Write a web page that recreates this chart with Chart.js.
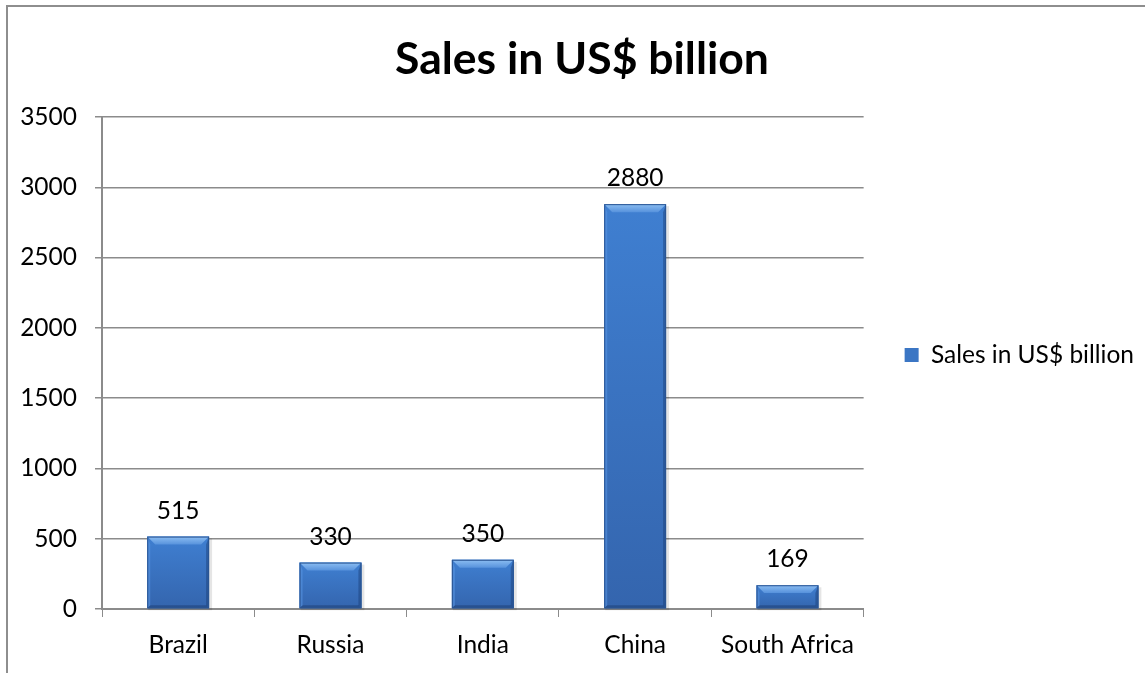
<!DOCTYPE html>
<html>
<head>
<meta charset="utf-8">
<script src="https://cdn.jsdelivr.net/npm/chart.js@4/dist/chart.umd.min.js"></script>
<style>
  html, body { margin: 0; padding: 0; background: #ffffff; }
  #wrap { position: relative; width: 1145px; height: 673px; overflow: hidden; }
  #frame { position: absolute; left: 6px; top: 5px; width: 1200px; height: 720px;
           border-left: 2px solid #8e8e8e; border-top: 2px solid #8e8e8e; box-sizing: border-box; }
  canvas { position: absolute; left: 0; top: 0; }
</style>
</head>
<body>
<div id="wrap">
  <div id="frame"></div>
  <canvas id="chart" width="1145" height="673"></canvas>
</div>
<script>
// Chart content
const chartTitle = 'Sales in US$ billion';
const seriesLabel = 'Sales in US$ billion';
const countries = ['Brazil', 'Russia', 'India', 'China', 'South Africa'];
const sales = [515, 330, 350, 2880, 169];
const yTicks = [0, 500, 1000, 1500, 2000, 2500, 3000, 3500];

const FONT = 'Lato, "Open Sans", sans-serif';
const BAR_BLUE = '#3b76c4';
const TEXT_SIZE = 24.5;

// Bevelled, slightly shaded bar faces drawn over each bar element
const bevelBars = {
  id: 'bevelBars',
  afterDatasetsDraw(chart) {
    const ctx = chart.ctx;
    const meta = chart.getDatasetMeta(0);
    meta.data.forEach((bar) => {
      const w = bar.width;
      const l = bar.x - w / 2, r = bar.x + w / 2;
      const t = bar.y, b = bar.base;
      const h = b - t;
      const bv = Math.min(8, h / 3);
      const sv = Math.min(3, w / 6);
      ctx.save();
      // soft shadow
      ctx.fillStyle = 'rgba(0,0,0,0.10)';
      ctx.fillRect(l + 1, t + 2, w + 2, h);
      // face
      const face = ctx.createLinearGradient(0, t, 0, b);
      face.addColorStop(0, '#3f7fd1');
      face.addColorStop(1, '#3465ae');
      ctx.fillStyle = face;
      ctx.fillRect(l, t, w, h);
      // top bevel
      const top = ctx.createLinearGradient(0, t, 0, t + bv);
      top.addColorStop(0, '#8cbef2');
      top.addColorStop(1, '#5792dc');
      ctx.fillStyle = top;
      ctx.beginPath();
      ctx.moveTo(l, t); ctx.lineTo(r, t); ctx.lineTo(r - bv, t + bv); ctx.lineTo(l + bv, t + bv);
      ctx.closePath(); ctx.fill();
      // left bevel
      ctx.fillStyle = 'rgba(90,150,225,0.55)';
      ctx.beginPath();
      ctx.moveTo(l, t); ctx.lineTo(l + sv, t + bv); ctx.lineTo(l + sv, b - sv); ctx.lineTo(l, b);
      ctx.closePath(); ctx.fill();
      // right bevel
      ctx.fillStyle = 'rgba(25,60,115,0.45)';
      ctx.beginPath();
      ctx.moveTo(r, t); ctx.lineTo(r - sv, t + bv); ctx.lineTo(r - sv, b - sv); ctx.lineTo(r, b);
      ctx.closePath(); ctx.fill();
      // bottom bevel
      ctx.fillStyle = 'rgba(25,55,105,0.45)';
      ctx.beginPath();
      ctx.moveTo(l, b); ctx.lineTo(l + sv, b - sv); ctx.lineTo(r - sv, b - sv); ctx.lineTo(r, b);
      ctx.closePath(); ctx.fill();
      // outline
      ctx.strokeStyle = '#2b5593';
      ctx.lineWidth = 1;
      ctx.strokeRect(l + 0.5, t + 0.5, w - 1, h - 1);
      ctx.restore();
    });
  }
};

// Value labels above the bars
const valueLabels = {
  id: 'valueLabels',
  afterDatasetsDraw(chart) {
    const ctx = chart.ctx;
    const meta = chart.getDatasetMeta(0);
    const values = chart.data.datasets[0].data;
    ctx.save();
    ctx.font = TEXT_SIZE + 'px ' + FONT;
    ctx.fillStyle = '#000000';
    ctx.textAlign = 'center';
    ctx.textBaseline = 'alphabetic';
    meta.data.forEach((bar, i) => {
      ctx.fillText(String(values[i]), bar.x, bar.y - 18);
    });
    ctx.restore();
  }
};

new Chart(document.getElementById('chart'), {
  type: 'bar',
  data: {
    labels: countries,
    datasets: [{
      label: seriesLabel,
      data: sales,
      backgroundColor: BAR_BLUE,
      borderWidth: 0,
      barPercentage: 0.406,
      categoryPercentage: 1.0
    }]
  },
  options: {
    responsive: false,
    animation: false,
    devicePixelRatio: 1,
    layout: { padding: { left: 20, right: 1, top: 20, bottom: -17 } },
    plugins: {
      title: {
        display: true,
        text: chartTitle,
        color: '#000000',
        font: { family: FONT, size: 44.5, weight: 'bold', lineHeight: 1.2 },
        padding: { top: 13, bottom: 30.6 }
      },
      legend: {
        display: true,
        position: 'right',
        labels: {
          color: '#000000',
          font: { family: FONT, size: TEXT_SIZE },
          boxWidth: 14,
          boxHeight: 14,
          padding: 41
        }
      },
      tooltip: { enabled: false }
    },
    scales: {
      x: {
        offset: true,
        grid: {
          offset: true,
          drawOnChartArea: false,
          drawTicks: true,
          tickLength: 8,
          color: '#8b8b8b',
          lineWidth: 1
        },
        border: { display: true, color: '#8b8b8b', width: 2 },
        ticks: {
          color: '#000000',
          font: { family: FONT, size: TEXT_SIZE },
          padding: 13,
          maxRotation: 0
        },
        afterFit(scale) { scale.height = 81; }
      },
      y: {
        min: yTicks[0],
        max: yTicks[yTicks.length - 1],
        afterBuildTicks(scale) { scale.ticks = yTicks.map(v => ({ value: v })); },
        grid: {
          color: '#8b8b8b',
          lineWidth: 1.5,
          tickLength: 7,
          drawTicks: true
        },
        border: { display: true, color: '#8b8b8b', width: 2 },
        ticks: {
          color: '#000000',
          font: { family: FONT, size: TEXT_SIZE },
          padding: 18,
          callback: (v) => String(v)
        },
        afterFit(scale) { scale.width = 82; }
      }
    }
  },
  plugins: [bevelBars, valueLabels]
});
</script>
</body>
</html>
